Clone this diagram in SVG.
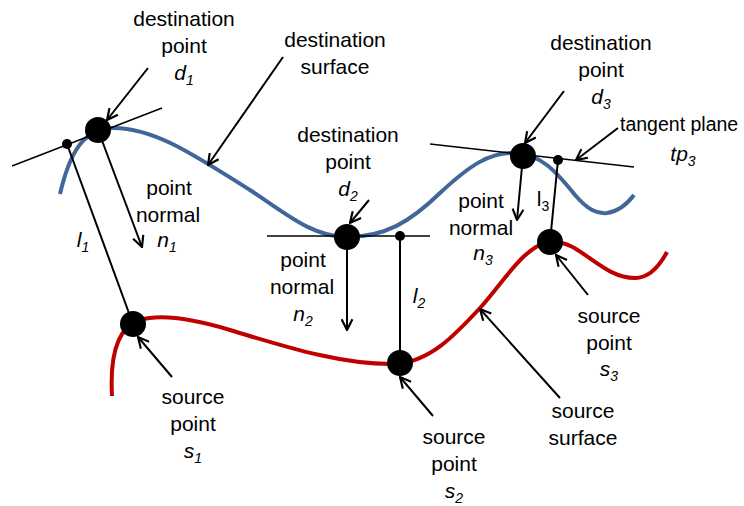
<svg xmlns="http://www.w3.org/2000/svg" width="744" height="506" viewBox="0 0 744 506">
<defs>
<marker id="ah" viewBox="0 0 12 12" refX="11" refY="6" markerUnits="userSpaceOnUse" markerWidth="13" markerHeight="13" orient="auto">
<path d="M1,1 L11,6 L1,11" fill="none" stroke="#000" stroke-width="2"/>
</marker>
<style>
text{font-family:"Liberation Sans",Arial,sans-serif;font-size:21px;fill:#000;text-anchor:middle}
.it{font-style:italic}
.sub{font-size:14px;font-style:italic}
.subu{font-size:14px}
.ln{stroke:#000;stroke-width:1.5;fill:none}
.ar{stroke:#000;stroke-width:2;fill:none;marker-end:url(#ah)}
.big{fill:#000}
</style>
</defs>
<rect width="744" height="506" fill="#fff"/>
<g id="surfaces">
<path id="destination-surface" d="M 60 194 C 68 160, 80 130, 110 128 C 150 126, 190 152, 250 190 C 285 213, 312 237, 347 237 C 385 237, 410 222, 440 193 C 470 165, 490 152, 515 153 C 540 154, 555 170, 575 195 C 588 210, 597 214, 607 213 C 620 211, 628 203, 634 195" fill="none" stroke="#41669a" stroke-width="4"/>
<path id="source-surface" d="M 112 396 C 110 360, 115 328, 140 320 C 160 314, 190 318, 230 330 C 280 345, 340 365, 395 364 C 430 362, 455 335, 480 308 C 505 280, 525 245, 550 242 C 580 239, 600 278, 635 278 C 650 278, 660 265, 667 252" fill="none" stroke="#c00000" stroke-width="4"/>
</g>
<g id="connectors">
<line class="ln" x1="12" y1="166" x2="162" y2="108"/>
<line class="ln" x1="267" y1="236" x2="430" y2="236"/>
<line class="ln" x1="430" y1="144" x2="634" y2="167"/>
<line class="ln" style="stroke-width:2" x1="67" y1="144" x2="133" y2="324"/>
<line class="ln" style="stroke-width:2" x1="400" y1="236" x2="400" y2="363"/>
<line class="ln" style="stroke-width:2" x1="558" y1="160" x2="550" y2="242"/>
<line class="ar" x1="98" y1="130" x2="142" y2="247"/>
<line class="ar" x1="347" y1="237" x2="347" y2="330"/>
<line class="ar" x1="523" y1="156" x2="517" y2="220"/>
<line class="ar" x1="148" y1="68" x2="107" y2="120"/>
<line class="ar" x1="283" y1="57" x2="208" y2="165"/>
<line class="ar" x1="369" y1="200" x2="350" y2="223"/>
<line class="ar" x1="564" y1="91" x2="525" y2="143"/>
<line class="ar" x1="618" y1="128" x2="576" y2="160"/>
<line class="ar" x1="172" y1="377" x2="138" y2="337"/>
<line class="ar" x1="433" y1="416" x2="400" y2="377"/>
<line class="ar" x1="560" y1="398" x2="480" y2="309"/>
<line class="ar" x1="588" y1="295" x2="556" y2="255"/>
</g>
<g id="points">
<circle id="d1" class="big" cx="98" cy="130" r="13"/>
<circle id="d2" class="big" cx="347" cy="237" r="13"/>
<circle id="d3" class="big" cx="523" cy="156" r="13"/>
<circle id="s1" class="big" cx="133" cy="324" r="13"/>
<circle id="s2" class="big" cx="400" cy="363" r="13"/>
<circle id="s3" class="big" cx="550" cy="242" r="13"/>
<circle class="big" cx="67" cy="144" r="5"/>
<circle class="big" cx="400" cy="236" r="5"/>
<circle class="big" cx="558" cy="160" r="5"/>
</g>
<g id="label-d1">
<text x="184" y="26">destination</text>
<text x="184" y="53">point</text>
<text x="184" y="80"><tspan class="it">d</tspan><tspan class="sub" dy="5">1</tspan></text>
</g>
<g id="label-dest-surface">
<text x="335" y="47">destination</text>
<text x="335" y="74">surface</text>
</g>
<g id="label-d2">
<text x="348" y="142">destination</text>
<text x="348" y="169">point</text>
<text x="348" y="196"><tspan class="it">d</tspan><tspan class="sub" dy="5">2</tspan></text>
</g>
<g id="label-d3">
<text x="601" y="50">destination</text>
<text x="601" y="77">point</text>
<text x="601" y="104"><tspan class="it">d</tspan><tspan class="sub" dy="5">3</tspan></text>
</g>
<g id="label-tp3">
<text x="620" y="131" style="text-anchor:start;font-size:19.5px">tangent plane</text>
<text x="683" y="161"><tspan class="it">tp</tspan><tspan class="sub" dy="5">3</tspan></text>
</g>
<g id="label-n1">
<text x="169" y="195">point</text>
<text x="168" y="222">normal</text>
<text x="167" y="247"><tspan class="it">n</tspan><tspan class="sub" dy="5">1</tspan></text>
</g>
<g id="label-n2">
<text x="303" y="267">point</text>
<text x="302" y="294">normal</text>
<text x="303" y="321"><tspan class="it">n</tspan><tspan class="sub" dy="5">2</tspan></text>
</g>
<g id="label-n3">
<text x="481" y="208">point</text>
<text x="481" y="235">normal</text>
<text x="483" y="260"><tspan class="it">n</tspan><tspan class="sub" dy="5">3</tspan></text>
</g>
<g id="label-l">
<text x="83" y="247"><tspan class="it">l</tspan><tspan class="sub" dy="5">1</tspan></text>
<text x="419" y="303"><tspan class="it">l</tspan><tspan class="sub" dy="5">2</tspan></text>
<text x="543" y="206"><tspan>l</tspan><tspan class="subu" dy="5">3</tspan></text>
</g>
<g id="label-s1">
<text x="193" y="404">source</text>
<text x="193" y="431">point</text>
<text x="193" y="458"><tspan class="it">s</tspan><tspan class="sub" dy="5">1</tspan></text>
</g>
<g id="label-s2">
<text x="454" y="444">source</text>
<text x="454" y="471">point</text>
<text x="454" y="498"><tspan class="it">s</tspan><tspan class="sub" dy="5">2</tspan></text>
</g>
<g id="label-s3">
<text x="609" y="323">source</text>
<text x="609" y="350">point</text>
<text x="609" y="376"><tspan class="it">s</tspan><tspan class="sub" dy="5">3</tspan></text>
</g>
<g id="label-source-surface">
<text x="583" y="418">source</text>
<text x="583" y="445">surface</text>
</g>
</svg>
